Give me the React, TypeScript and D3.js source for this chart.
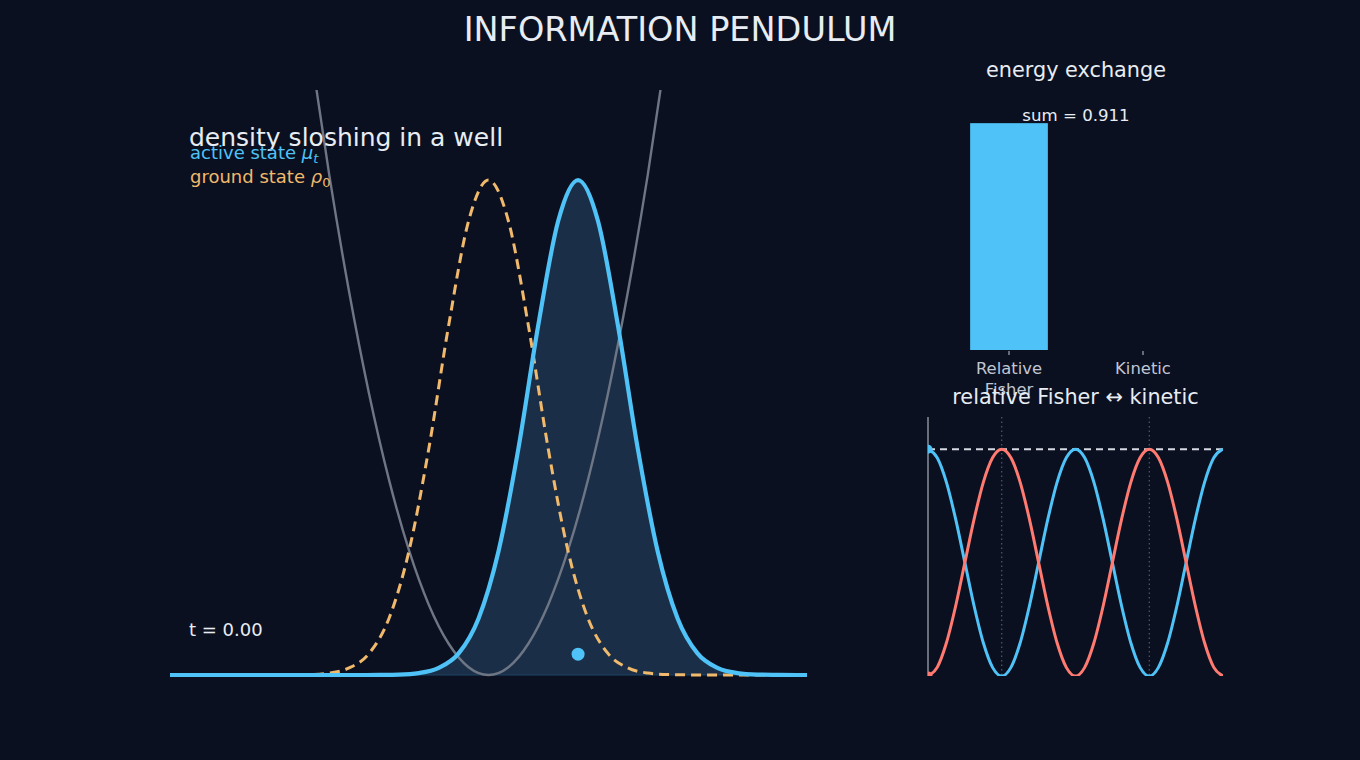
import { useEffect } from 'react';
import * as d3 from 'd3';

// ground state rho_0 (centred at 0) — density
const groundX = [-4, -2.75, -2.5, -2.25, -2, -1.75, -1.5, -1.25, -1, -0.75, -0.5, -0.25, 0, 0.25, 0.5, 0.75, 1, 1.25, 1.5, 1.75, 2, 2.25, 2.5, 2.75, 4];
const groundY = [0, 0, 0.0002, 0.0006, 0.0026, 0.0095, 0.029, 0.076, 0.166, 0.304, 0.47, 0.61, 0.665, 0.61, 0.47, 0.304, 0.166, 0.076, 0.029, 0.0095, 0.0026, 0.0006, 0.0002, 0, 0];

// active state mu_t (shifted to the right)
const activeX = [-4, -1.625, -1.375, -1.125, -0.875, -0.625, -0.375, -0.125, 0.125, 0.375, 0.625, 0.875, 1.125, 1.375, 1.625, 1.875, 2.125, 2.375, 2.625, 2.875, 3.125, 3.375, 3.625, 3.875, 4];
const activeY = [0, 0, 0.0002, 0.0006, 0.0026, 0.0095, 0.029, 0.076, 0.166, 0.304, 0.47, 0.61, 0.665, 0.61, 0.47, 0.304, 0.166, 0.076, 0.029, 0.0095, 0.0026, 0.0006, 0.0002, 0, 0];
const activeMean = 1.125;
const meanMarkerY = 0.028;

// potential well
const wellX = [-2.5, -2.25, -2, -1.75, -1.5, -1.25, -1, -0.75, -0.5, -0.25, 0, 0.25, 0.5, 0.75, 1, 1.25, 1.5, 1.75, 2, 2.25, 2.5];
const wellY = [1.05, 0.8505, 0.672, 0.5145, 0.378, 0.2625, 0.168, 0.0945, 0.042, 0.0105, 0, 0.0105, 0.042, 0.0945, 0.168, 0.2625, 0.378, 0.5145, 0.672, 0.8505, 1.05];

// energy bars
const energyCats = ['Relative\nFisher', 'Kinetic'];
const energyVals = [0.911, 0];
const energySum = 0.911;

// exchange over time
const timeT = [0, 0.125, 0.25, 0.375, 0.5, 0.625, 0.75, 0.875, 1, 1.125, 1.25, 1.375, 1.5, 1.625, 1.75, 1.875, 2, 2.125, 2.25, 2.375, 2.5, 2.625, 2.75, 2.875, 3, 3.125, 3.25, 3.375, 3.5, 3.625, 3.75, 3.875, 4];
const fisherT = [0.911, 0.8763, 0.7776, 0.6298, 0.4555, 0.2812, 0.1334, 0.0347, 0, 0.0347, 0.1334, 0.2812, 0.4555, 0.6298, 0.7776, 0.8763, 0.911, 0.8763, 0.7776, 0.6298, 0.4555, 0.2812, 0.1334, 0.0347, 0, 0.0347, 0.1334, 0.2812, 0.4555, 0.6298, 0.7776, 0.8763, 0.911];
const kineticT = [0, 0.0347, 0.1334, 0.2812, 0.4555, 0.6298, 0.7776, 0.8763, 0.911, 0.8763, 0.7776, 0.6298, 0.4555, 0.2812, 0.1334, 0.0347, 0, 0.0347, 0.1334, 0.2812, 0.4555, 0.6298, 0.7776, 0.8763, 0.911, 0.8763, 0.7776, 0.6298, 0.4555, 0.2812, 0.1334, 0.0347, 0];
const turnTimes = [1, 3];

const BG = '#0b1020';
const TEXT = '#e8ecf3';
const BLUE = '#4fc3f7';
const ORANGE = '#f0b96c';
const RED = '#ff7a70';
const FONT = 'DejaVu Sans, sans-serif';

export default function App() {
  useEffect(() => {
    document.body.style.margin = '0';
    document.body.style.background = BG;
  }, []);

  // main panel
  const xMain = d3.scaleLinear().domain([-4, 4]).range([170, 807]);
  const yMain = d3.scaleLinear().domain([0, 0.786]).range([675, 90]);
  const line = d3
    .line<[number, number]>()
    .x((d) => xMain(d[0]))
    .y((d) => yMain(d[1]))
    .curve(d3.curveMonotoneX);
  const area = d3
    .area<[number, number]>()
    .x((d) => xMain(d[0]))
    .y0(yMain(0))
    .y1((d) => yMain(d[1]))
    .curve(d3.curveMonotoneX);
  const ground = groundX.map((x, i) => [x, groundY[i]] as [number, number]);
  const active = activeX.map((x, i) => [x, activeY[i]] as [number, number]);
  const well = wellX.map((x, i) => [x, wellY[i]] as [number, number]);

  // bars
  const xBar = d3.scaleLinear().domain([-0.5, 1.5]).range([942, 1210]);
  const yBar = d3.scaleLinear().domain([0, 1]).range([350, 101]);
  const barW = xBar(0.58) - xBar(0);

  // time panel
  const xT = d3.scaleLinear().domain([0, 4]).range([928, 1223]);
  const yT = d3.scaleLinear().domain([0, 1.04]).range([676, 417]);
  const tLine = d3
    .line<number>()
    .x((_, i) => xT(timeT[i]))
    .y((d) => yT(d))
    .curve(d3.curveMonotoneX);

  return (
    <svg width={1360} height={760} style={{ display: 'block', fontFamily: FONT }}>
      <defs>
        <clipPath id="mainClip">
          <rect x={170} y={90} width={637} height={600} />
        </clipPath>
        <clipPath id="tClip">
          <rect x={928} y={417} width={295} height={259} />
        </clipPath>
      </defs>
      <rect width={1360} height={760} fill={BG} />

      <text x={680} y={41} textAnchor="middle" fill={TEXT} fontSize={33.5}>
        INFORMATION PENDULUM
      </text>

      {/* main panel */}
      <g clipPath="url(#mainClip)">
        <path d={area(active) ?? ''} fill="#1a2f47" stroke="#1d4466" strokeWidth={1} />
        <path d={line(well) ?? ''} fill="none" stroke="#6e7685" strokeWidth={2.4} />
        <path
          d={line(ground) ?? ''}
          fill="none"
          stroke={ORANGE}
          strokeWidth={3}
          strokeDasharray="10,6"
        />
        <path d={line(active) ?? ''} fill="none" stroke={BLUE} strokeWidth={4.2} />
        <circle cx={xMain(activeMean)} cy={yMain(meanMarkerY)} r={6.5} fill={BLUE} />
      </g>
      <text x={189} y={146} fill={TEXT} fontSize={25}>
        density sloshing in a well
      </text>
      <text x={190} y={159} fill={BLUE} fontSize={18}>
        active state{' '}
        <tspan fontStyle="italic">μ</tspan>
        <tspan fontStyle="italic" fontSize={13} dy={4}>t</tspan>
      </text>
      <text x={190} y={183} fill={ORANGE} fontSize={18}>
        ground state{' '}
        <tspan fontStyle="italic">ρ</tspan>
        <tspan fontSize={13} dy={4}>0</tspan>
      </text>
      <text x={189} y={636} fill={TEXT} fontSize={18}>
        t = 0.00
      </text>

      {/* energy bars */}
      <text x={xBar(0.5)} y={77} textAnchor="middle" fill={TEXT} fontSize={20.8}>
        energy exchange
      </text>
      {energyVals.map((v, i) => (
        <rect
          key={i}
          x={xBar(i) - barW / 2}
          y={yBar(v)}
          width={barW}
          height={yBar(0) - yBar(v)}
          fill={BLUE}
        />
      ))}
      {energyCats.map((c, i) => (
        <g key={c}>
          <line x1={xBar(i)} x2={xBar(i)} y1={351} y2={355} stroke="#c0c6d2" strokeWidth={1} />
          {c.split('\n').map((s, j) => (
            <text
              key={j}
              x={xBar(i)}
              y={374 + j * 21}
              textAnchor="middle"
              fill="#c0c6d2"
              fontSize={16.4}
            >
              {s}
            </text>
          ))}
        </g>
      ))}
      <text x={xBar(0.5)} y={yBar(0.92)} textAnchor="middle" fill={TEXT} fontSize={16.6}>
        sum = {energySum.toFixed(3)}
      </text>

      {/* exchange over time */}
      <text x={xT(2)} y={404} textAnchor="middle" fill={TEXT} fontSize={20.8}>
        relative Fisher ↔ kinetic
      </text>
      {turnTimes.map((t) => (
        <line
          key={t}
          x1={xT(t)}
          x2={xT(t)}
          y1={417}
          y2={676}
          stroke="#5f6778"
          strokeWidth={1}
          strokeDasharray="1.5,3"
        />
      ))}
      <line x1={928} x2={928} y1={417} y2={676} stroke="#c8ccd6" strokeWidth={1} />
      <g clipPath="url(#tClip)">
        <line
          x1={xT(0)}
          x2={xT(4)}
          y1={yT(energySum)}
          y2={yT(energySum)}
          stroke="#d5d9e2"
          strokeWidth={2}
          strokeDasharray="7,5"
        />
        <path d={tLine(fisherT) ?? ''} fill="none" stroke={BLUE} strokeWidth={3} />
        <path d={tLine(kineticT) ?? ''} fill="none" stroke={RED} strokeWidth={3} />
        <circle cx={xT(0)} cy={yT(fisherT[0])} r={4.5} fill={BLUE} />
        <circle cx={xT(0)} cy={yT(kineticT[0])} r={4.5} fill={RED} />
      </g>
    </svg>
  );
}
